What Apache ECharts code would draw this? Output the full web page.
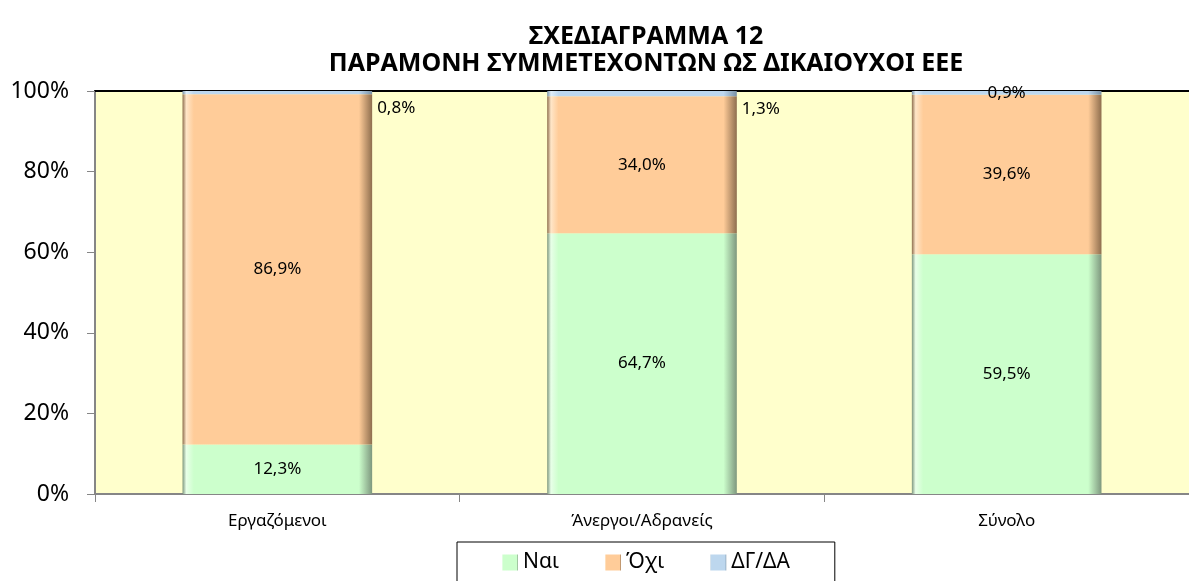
<!DOCTYPE html>
<html>
<head>
<meta charset="utf-8">
<script src="https://cdn.jsdelivr.net/npm/echarts@6/dist/echarts.min.js"></script>
<style>
  html, body { margin: 0; padding: 0; background: #fff; }
  #main { width: 1189px; height: 581px; }
</style>
</head>
<body>
<div id="main"></div>
<script>
// κατηγορίες και τιμές (%)
const categories = ['Εργαζόμενοι', 'Άνεργοι/Αδρανείς', 'Σύνολο'];
const naiValues = [12.3, 64.7, 59.5];
const oxiValues = [86.9, 34.0, 39.6];
const dgdaValues = [0.8, 1.3, 0.9];
const yTicks = [0, 20, 40, 60, 80, 100];

const FONT = '"Noto Sans", "DejaVu Sans", sans-serif';
const fmt = (v) => v.toFixed(1).replace('.', ',') + '%';

// ανάγλυφο χρώμα μπάρας
const bevel = (light, base, dark) => ({
  type: 'linear', x: 0, y: 0, x2: 1, y2: 0,
  colorStops: [
    { offset: 0, color: dark },
    { offset: 0.02, color: light },
    { offset: 0.06, color: base },
    { offset: 0.93, color: base },
    { offset: 1, color: dark },
  ],
});

const chart = echarts.init(document.getElementById('main'));

const baseLabel = {
  show: true,
  color: '#000',
  fontFamily: FONT,
  fontSize: 17,
  formatter: (p) => fmt(p.value),
};

const options = {
  animation: false,
  textStyle: { fontFamily: FONT },
  title: {
    text: 'ΣΧΕΔΙΑΓΡΑΜΜΑ 12\nΠΑΡΑΜΟΝΗ ΣΥΜΜΕΤΕΧΟΝΤΩΝ ΩΣ ΔΙΚΑΙΟΥΧΟΙ ΕΕΕ',
    left: 641,
    textAlign: 'center',
    top: 18,
    textStyle: {
      fontFamily: FONT,
      fontWeight: 'bold',
      fontSize: 25,
      lineHeight: 27,
      color: '#000',
    },
  },
  legend: {
    left: 457,
    top: 542,
    icon: 'rect',
    itemWidth: 16,
    itemHeight: 16,
    itemGap: 46,
    padding: [10, 45, 30, 45],
    borderColor: '#000',
    borderWidth: 1,
    selectedMode: false,
    textStyle: { fontFamily: FONT, fontSize: 21, color: '#000' },
    data: ['Ναι', 'Όχι', 'ΔΓ/ΔΑ'],
  },
  grid: {
    left: 95,
    right: 0,
    top: 91,
    bottom: 87,
    show: true,
    backgroundColor: '#FFFFCC',
    borderWidth: 0,
  },
  xAxis: [
    {
      type: 'category',
      data: categories,
      axisLine: { show: true, lineStyle: { color: '#868686', width: 2 } },
      axisTick: { show: true, length: 8, lineStyle: { color: '#868686' } },
      axisLabel: { color: '#000', fontSize: 17, fontFamily: FONT, margin: 19 },
    },
    {
      type: 'category',
      position: 'top',
      data: categories,
      axisLine: { show: true, lineStyle: { color: '#000', width: 2 } },
      axisTick: { show: false },
      axisLabel: { show: false },
    },
  ],
  yAxis: {
    type: 'value',
    min: yTicks[0],
    max: yTicks[yTicks.length - 1],
    interval: 20,
    axisLine: { show: true, lineStyle: { color: '#868686', width: 2 } },
    axisTick: { show: true, length: 8, lineStyle: { color: '#868686' } },
    splitLine: { show: false },
    axisLabel: {
      color: '#000',
      fontSize: 23,
      fontFamily: FONT,
      margin: 26,
      formatter: '{value}%',
    },
  },
  series: [
    {
      name: 'Ναι',
      type: 'bar',
      stack: 'total',
      barWidth: '52%',
      data: naiValues,
      itemStyle: { color: bevel('#E8FFE8', '#CCFFCC', '#7E977E') },
      label: { ...baseLabel, position: 'inside' },
    },
    {
      name: 'Όχι',
      type: 'bar',
      stack: 'total',
      data: oxiValues,
      itemStyle: { color: bevel('#FFE6C8', '#FFCC99', '#8E6E4E') },
      label: { ...baseLabel, position: 'inside' },
    },
    {
      name: 'ΔΓ/ΔΑ',
      type: 'bar',
      stack: 'total',
      data: dgdaValues.map((v, i) => ({
        value: v,
        label: i < 2
          ? { position: 'right', offset: [0, 16] }
          : { position: 'inside' },
      })),
      itemStyle: { color: bevel('#E0EEF8', '#BDD7EE', '#7890A4') },
      label: { ...baseLabel },
    },
  ],
};

chart.setOption(options);
</script>
</body>
</html>
